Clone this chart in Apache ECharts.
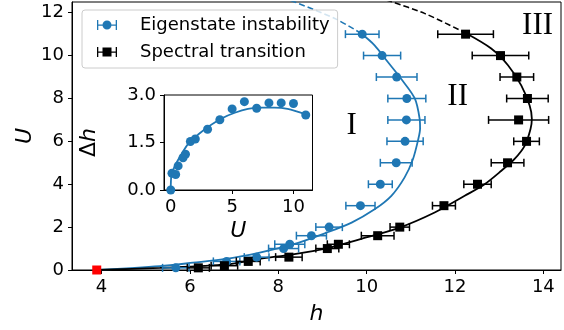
<!DOCTYPE html>
<html>
<head>
<meta charset="utf-8">
<style>
html, body { margin: 0; padding: 0; background: #fff; }
#main { width: 564px; height: 330px; }
</style>
</head>
<body>
<div id="main"></div>
<script src="https://cdn.jsdelivr.net/npm/echarts@6.0.0/dist/echarts.min.js"></script>
<script>
// measured points: h, U, horizontal error
const eigH = [5.68, 6.83, 7.51, 8.12, 8.26, 8.75, 9.15, 9.86, 10.31, 10.67, 10.87, 10.90, 10.91, 10.68, 10.35, 9.90]
const eigU = [0.1, 0.4, 0.6, 1.0, 1.2, 1.6, 2, 3, 4, 5, 6, 7, 8, 9, 10, 11]
const eigErr = [0.3, 0.3, 0.28, 0.34, 0.34, 0.34, 0.3, 0.33, 0.27, 0.36, 0.41, 0.42, 0.43, 0.46, 0.42, 0.38]

const specH = [6.19, 6.78, 7.32, 8.24, 9.11, 9.36, 10.25, 10.75, 11.75, 12.51, 13.19, 13.62, 13.44, 13.64, 13.40, 13.03, 12.24]
const specU = [0.1, 0.2, 0.4, 0.6, 1.0, 1.2, 1.6, 2, 3, 4, 5, 6, 7, 8, 9, 10, 11]
const specErr = [0.25, 0.3, 0.27, 0.3, 0.26, 0.25, 0.37, 0.22, 0.26, 0.31, 0.37, 0.29, 0.68, 0.47, 0.38, 0.64, 0.63]

const criticalH = [3.89]
const criticalU = [0]

// fitted curves
const eigFitH = [3.89, 5.32, 6.07, 6.83, 7.58, 8.33, 9.09, 9.66, 10.18, 10.56, 10.86, 11.05, 11.17, 11.21, 11.2, 11.09, 10.78, 10.48, 10.18, 9.88]
const eigFitU = [0, 0.18, 0.34, 0.52, 0.81, 1.19, 1.74, 2.21, 2.83, 3.46, 4.32, 5.18, 6.11, 6.6, 7.05, 8.0, 8.92, 9.7, 10.48, 11.03]
const eigDashH = [9.88, 9.28, 8.26]
const eigDashU = [11.03, 11.73, 12.59]

const specFitH = [3.89, 5.32, 6.83, 7.58, 8.33, 9.09, 9.84, 10.75, 11.54, 12.22, 12.67, 13.05, 13.35, 13.58, 13.71, 13.74, 13.69, 13.5, 13.2, 12.82, 12.26]
const specFitU = [0, 0.1, 0.26, 0.52, 0.73, 1.01, 1.43, 1.98, 2.68, 3.46, 4.0, 4.63, 5.18, 5.8, 6.58, 7.05, 7.67, 8.61, 9.55, 10.33, 11.03]
const specDashH = [12.26, 11.31, 10.45]
const specDashU = [11.03, 11.97, 12.59]

// inset
const insetU = [0, 0.1, 0.4, 0.6, 1.0, 1.2, 1.6, 2, 3, 4, 5, 6, 7, 8, 9, 10, 11]
const insetDh = [0, 0.53, 0.49, 0.76, 1.02, 1.13, 1.53, 1.61, 1.92, 2.22, 2.56, 2.79, 2.58, 2.75, 2.75, 2.73, 2.37]
const insetFitU = [0, 0.06, 0.38, 0.92, 1.45, 2.26, 3.06, 4.14, 5.22, 6.29, 7.37, 8.44, 9.52, 11.0]
const insetFitDh = [0, 0.47, 0.79, 1.16, 1.47, 1.76, 2.0, 2.26, 2.44, 2.56, 2.6, 2.6, 2.56, 2.39]

const hTicks = [4, 6, 8, 10, 12, 14]
const uTicks = [0, 2, 4, 6, 8, 10, 12]
const insetUTicks = [0, 5, 10]

const regionNames = ['I', 'II', 'III']
const regionH = [9.66, 12.06, 13.87]
const regionU = [6.74, 8.08, 11.4]

const BLUE = '#1f77b4'
const FONT = 'DejaVu Sans'

const pairs = (xs, ys) => xs.map((x, i) => [x, ys[i]])
const triples = (xs, ys, es) => xs.map((x, i) => [x, ys[i], es[i]])

function errorBars(color) {
  return function (params, api) {
    const h = api.value(0)
    const u = api.value(1)
    const e = api.value(2)
    const a = api.coord([h - e, u])
    const b = api.coord([h + e, u])
    const cap = 4
    const style = { stroke: color, lineWidth: 1.5 }
    return {
      type: 'group',
      children: [
        { type: 'line', shape: { x1: a[0], y1: a[1], x2: b[0], y2: b[1] }, style: style },
        { type: 'line', shape: { x1: a[0], y1: a[1] - cap, x2: a[0], y2: a[1] + cap }, style: style },
        { type: 'line', shape: { x1: b[0], y1: b[1] - cap, x2: b[0], y2: b[1] + cap }, style: style },
      ],
    }
  }
}

function axisBase(gridIndex) {
  return {
    gridIndex: gridIndex,
    type: 'value',
    splitLine: { show: false },
    axisLine: { show: true, onZero: false, lineStyle: { color: '#000', width: 1 } },
    axisTick: { show: true, length: 4, lineStyle: { color: '#000' } },
    axisLabel: { color: '#000', fontFamily: FONT, fontSize: 18, margin: 8 },
    nameLocation: 'middle',
    nameMoveOverlap: false,
    nameTextStyle: { color: '#000', fontFamily: FONT, fontStyle: 'italic', fontSize: 22 },
  }
}

const xMain = axisBase(0)
Object.assign(xMain, { min: 3.33, max: 14.4, name: 'h', nameGap: 33 })
xMain.axisLabel.customValues = hTicks
xMain.axisTick.customValues = hTicks

const yMain = axisBase(0)
Object.assign(yMain, { min: 0, max: 12.5, name: 'U', nameGap: 36 })
yMain.axisLabel.customValues = uTicks
yMain.axisTick.customValues = uTicks

const xInset = axisBase(1)
Object.assign(xInset, { min: -0.55, max: 11.55, name: 'U', nameGap: 30 })
xInset.axisLabel.customValues = insetUTicks
xInset.axisTick.customValues = insetUTicks

const yInset = axisBase(1)
Object.assign(yInset, {
  min: 0, max: 3, interval: 1.5, nameGap: 64,
  name: '{d|Δ}{i|h}',
})
yInset.axisLabel.formatter = v => v.toFixed(1)
yInset.nameTextStyle = {
  color: '#000', fontFamily: FONT, fontSize: 22,
  rich: {
    d: { fontFamily: FONT, fontSize: 22, color: '#000' },
    i: { fontFamily: FONT, fontSize: 22, fontStyle: 'italic', color: '#000' },
  },
}

const blueIcon = 'path://M0,0h1.3v10h-1.3z M18.7,0h1.3v10h-1.3z M1.3,4.4h4.3v1.3h-4.3z M14.4,4.4h4.3v1.3h-4.3z M14.5,5a4.5,4.5 0 1,1 -9,0a4.5,4.5 0 1,1 9,0z'
const blackIcon = 'path://M0,0h1.3v10h-1.3z M18.7,0h1.3v10h-1.3z M1.3,4.4h4.2v1.3h-4.2z M14.5,4.4h4.2v1.3h-4.2z M5.5,0.5h9v9h-9z'

let myChart = echarts.init(document.getElementById('main'), null, { renderer: 'canvas' })
myChart.setOption({
  animation: false,
  backgroundColor: '#fff',
  grid: [
    { left: 72, top: 2, right: 3, bottom: 59.5, show: true, borderColor: '#000', borderWidth: 1, backgroundColor: 'transparent' },
    { left: 164, top: 95, width: 148.5, height: 95, show: true, borderColor: '#000', borderWidth: 1, backgroundColor: '#fff' },
  ],
  xAxis: [xMain, xInset],
  yAxis: [yMain, yInset],
  legend: {
    orient: 'vertical',
    left: 82,
    top: 10,
    padding: [6, 8, 7, 15],
    itemGap: 9,
    itemWidth: 20,
    itemHeight: 10,
    backgroundColor: 'rgba(255,255,255,0.8)',
    borderColor: '#cccccc',
    borderWidth: 1,
    borderRadius: 3,
    textStyle: { color: '#000', fontFamily: FONT, fontSize: 18, lineHeight: 18, padding: [0, 0, 0, 18] },
    data: [
      { name: 'Eigenstate instability', icon: blueIcon },
      { name: 'Spectral transition', icon: blackIcon },
    ],
  },
  series: [
    {
      type: 'line', name: 'eigFit', data: pairs(eigFitH, eigFitU), showSymbol: false, smooth: 0.3,
      lineStyle: { color: BLUE, width: 1.8 }, z: 2,
    },
    {
      type: 'line', name: 'eigDash', data: pairs(eigDashH, eigDashU), showSymbol: false, smooth: 0.3,
      lineStyle: { color: BLUE, width: 1.6, type: [6, 3] }, z: 2,
    },
    {
      type: 'line', name: 'specFit', data: pairs(specFitH, specFitU), showSymbol: false, smooth: 0.3,
      lineStyle: { color: '#000', width: 1.8 }, z: 2,
    },
    {
      type: 'line', name: 'specDash', data: pairs(specDashH, specDashU), showSymbol: false, smooth: 0.3,
      lineStyle: { color: '#000', width: 1.6, type: [6, 3] }, z: 2,
    },
    {
      type: 'custom', name: 'eigErr', renderItem: errorBars(BLUE),
      data: triples(eigH, eigU, eigErr), encode: { x: 0, y: 1 }, z: 3,
    },
    {
      type: 'custom', name: 'specErr', renderItem: errorBars('#000'),
      data: triples(specH, specU, specErr), encode: { x: 0, y: 1 }, z: 3,
    },
    {
      type: 'scatter', name: 'Eigenstate instability', data: pairs(eigH, eigU),
      symbol: 'circle', symbolSize: 9, itemStyle: { color: BLUE, opacity: 1 }, z: 4,
    },
    {
      type: 'scatter', name: 'Spectral transition', data: pairs(specH, specU),
      symbol: 'rect', symbolSize: 9, itemStyle: { color: '#000', opacity: 1 }, z: 4,
    },
    {
      type: 'scatter', name: 'critical', data: pairs(criticalH, criticalU), clip: false,
      symbol: 'rect', symbolSize: 9, itemStyle: { color: '#ff0000', opacity: 1 }, z: 5,
    },
    {
      type: 'scatter', name: 'regions',
      data: regionNames.map((n, i) => ({ name: n, value: [regionH[i], regionU[i]] })),
      symbolSize: 1, itemStyle: { color: 'rgba(0,0,0,0)', opacity: 1 },
      label: {
        show: true, position: 'inside', formatter: '{b}', opacity: 1,
        fontFamily: 'Liberation Serif', fontSize: 31, color: '#000',
      },
      z: 5,
    },
    {
      type: 'line', name: 'insetFit', xAxisIndex: 1, yAxisIndex: 1,
      data: pairs(insetFitU, insetFitDh), showSymbol: false, smooth: 0.3,
      lineStyle: { color: BLUE, width: 1.8 }, z: 2,
    },
    {
      type: 'scatter', name: 'insetPts', xAxisIndex: 1, yAxisIndex: 1, clip: false,
      data: pairs(insetU, insetDh), symbol: 'circle', symbolSize: 9,
      itemStyle: { color: BLUE, opacity: 1 }, z: 4,
    },
  ],
})
</script>
</body>
</html>
